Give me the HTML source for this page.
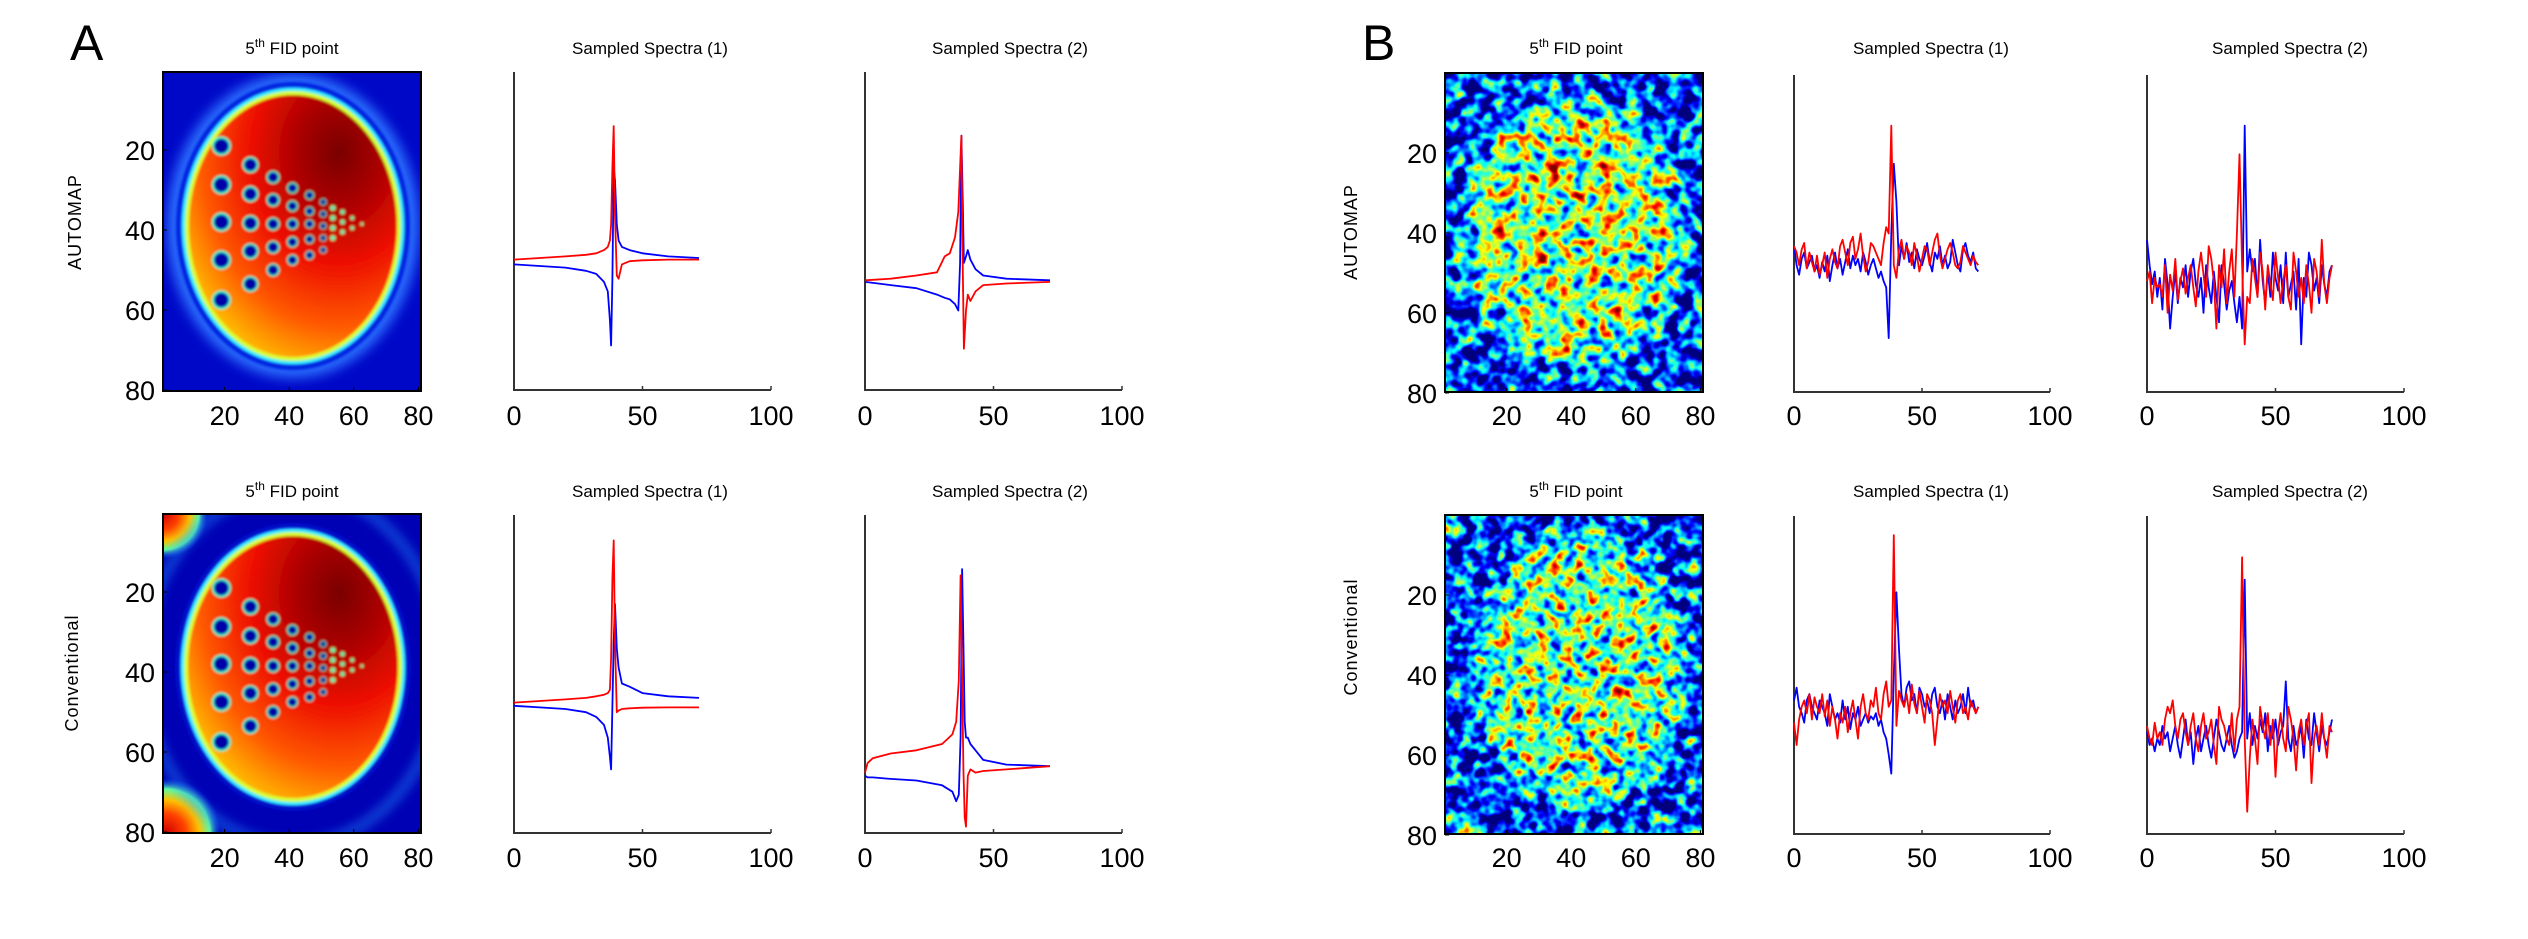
<!DOCTYPE html>
<html><head><meta charset="utf-8">
<style>
html,body{margin:0;padding:0;background:#fff;}
svg{display:block;font-family:"Liberation Sans",sans-serif;}
</style></head>
<body>
<svg id="fig" width="2528" height="939" viewBox="0 0 2528 939" xmlns="http://www.w3.org/2000/svg">
<defs>
  <radialGradient id="gradIn" cx="0.72" cy="0.22" r="0.95">
    <stop offset="0" stop-color="#7a0000"/>
    <stop offset="0.2" stop-color="#a80000"/>
    <stop offset="0.45" stop-color="#ee1000"/>
    <stop offset="0.7" stop-color="#ff5a00"/>
    <stop offset="0.88" stop-color="#ffb000"/>
    <stop offset="1" stop-color="#f0f000"/>
  </radialGradient>
  <radialGradient id="cornerG" cx="0.5" cy="0.5" r="0.5">
    <stop offset="0" stop-color="#d00000"/>
    <stop offset="0.35" stop-color="#ff4000"/>
    <stop offset="0.6" stop-color="#ffc000"/>
    <stop offset="0.8" stop-color="#60ffa0"/>
    <stop offset="1" stop-color="#0040ff" stop-opacity="0"/>
  </radialGradient>
  <filter id="soft"><feGaussianBlur stdDeviation="1.3"/></filter>
  <filter id="halo"><feGaussianBlur stdDeviation="6"/></filter>
  <clipPath id="clipAT"><rect x="163" y="72" width="258" height="319"/></clipPath>
  <clipPath id="clipAB"><rect x="163" y="514" width="258" height="319"/></clipPath>
  <filter id="spkT" filterUnits="userSpaceOnUse" x="1445" y="73" width="258" height="319" color-interpolation-filters="sRGB">
    <feGaussianBlur in="SourceGraphic" stdDeviation="8" result="sig"/>
    <feTurbulence type="fractalNoise" baseFrequency="0.075" numOctaves="2" seed="7" result="n"/>
    <feColorMatrix in="n" type="matrix" values="1 0 0 0 0 1 0 0 0 0 1 0 0 0 0 0 0 0 0 1" result="ng"/>
    <feComposite in="sig" in2="ng" operator="arithmetic" k1="0" k2="0.38" k3="1.5" k4="-0.57" result="v"/>
    <feColorMatrix in="v" type="matrix" values="1 0 0 0 0 1 0 0 0 0 1 0 0 0 0 0 0 0 0 1" result="v2"/>
    <feComponentTransfer in="v2">
      <feFuncR type="table" tableValues="0 0 0 0 0.5 1 1 1 0.5"/>
      <feFuncG type="table" tableValues="0 0 0.5 1 1 1 0.5 0 0"/>
      <feFuncB type="table" tableValues="0.5 1 1 1 0.5 0 0 0 0"/>
    </feComponentTransfer>
  </filter>
  <filter id="spkB" filterUnits="userSpaceOnUse" x="1445" y="515" width="258" height="319" color-interpolation-filters="sRGB">
    <feGaussianBlur in="SourceGraphic" stdDeviation="8" result="sig"/>
    <feTurbulence type="fractalNoise" baseFrequency="0.08" numOctaves="2" seed="21" result="n"/>
    <feColorMatrix in="n" type="matrix" values="1 0 0 0 0 1 0 0 0 0 1 0 0 0 0 0 0 0 0 1" result="ng"/>
    <feComposite in="sig" in2="ng" operator="arithmetic" k1="0" k2="0.34" k3="1.5" k4="-0.58" result="v"/>
    <feColorMatrix in="v" type="matrix" values="1 0 0 0 0 1 0 0 0 0 1 0 0 0 0 0 0 0 0 1" result="v2"/>
    <feComponentTransfer in="v2">
      <feFuncR type="table" tableValues="0 0 0 0 0.5 1 1 1 0.5"/>
      <feFuncG type="table" tableValues="0 0 0.5 1 1 1 0.5 0 0"/>
      <feFuncB type="table" tableValues="0.5 1 1 1 0.5 0 0 0 0"/>
    </feComponentTransfer>
  </filter>
  <radialGradient id="sigT" cx="0.5" cy="0.5" r="0.5" fx="0.55" fy="0.3">
    <stop offset="0" stop-color="#fff"/><stop offset="0.85" stop-color="#ddd"/><stop offset="1" stop-color="#bbb"/>
  </radialGradient>
</defs>

<!-- Panel A top image -->
<g clip-path="url(#clipAT)">
  <rect x="163" y="72" width="258" height="319" fill="#0008c8"/>
  <ellipse cx="293" cy="226" rx="126" ry="152" fill="#2a70ff" filter="url(#halo)"/>
  <ellipse cx="293" cy="226" rx="117" ry="144" fill="#0020e0" filter="url(#soft)"/>
  <g filter="url(#soft)">
    <ellipse cx="293" cy="226" rx="112" ry="139" fill="#30e8ff"/>
    <ellipse cx="293" cy="226" rx="108" ry="135" fill="#d8ff30"/>
    <ellipse cx="293" cy="226" rx="104" ry="131" fill="url(#gradIn)"/>
    <g id="dotsAT"></g>
  </g>
</g>
<rect x="163" y="72" width="258" height="319" fill="none" stroke="#000" stroke-width="2"/>

<!-- Panel A bottom image -->
<g clip-path="url(#clipAB)">
  <rect x="163" y="514" width="258" height="319" fill="#0000b4"/>
  <circle cx="163" cy="514" r="45" fill="url(#cornerG)"/>
  <circle cx="166" cy="833" r="55" fill="url(#cornerG)"/>
  <ellipse cx="293" cy="667" rx="150" ry="178" fill="none" stroke="#2090ff" stroke-width="5" filter="url(#halo)"/>
  <ellipse cx="293" cy="667" rx="118" ry="144" fill="#0010c8" filter="url(#soft)"/>
  <g filter="url(#soft)">
    <ellipse cx="293" cy="667" rx="113" ry="139" fill="#30e8ff"/>
    <ellipse cx="293" cy="667" rx="109" ry="135" fill="#d8ff30"/>
    <ellipse cx="293" cy="667" rx="105" ry="131" fill="url(#gradIn)"/>
    <g id="dotsAB"></g>
  </g>
</g>
<rect x="163" y="514" width="258" height="319" fill="none" stroke="#000" stroke-width="2"/>

<!-- Panel B images -->
<g filter="url(#spkT)">
  <rect x="1445" y="73" width="258" height="319" fill="#000"/>
  <ellipse cx="1574" cy="232" rx="110" ry="133" fill="url(#sigT)"/>
</g>
<rect x="1445" y="73" width="258" height="319" fill="none" stroke="#000" stroke-width="2"/>
<g filter="url(#spkB)">
  <rect x="1445" y="515" width="258" height="319" fill="#000"/>
  <ellipse cx="1580" cy="670" rx="106" ry="138" fill="url(#sigT)"/>
  <circle cx="1447" cy="520" r="14" fill="#999"/>
  <circle cx="1452" cy="832" r="22" fill="#999"/>
</g>
<rect x="1445" y="515" width="258" height="319" fill="none" stroke="#000" stroke-width="2"/>

<g id="layer"></g>
</svg>

<script>
// ---------- spectra data (x in axis units 0-100, y in % of plot height) ----------
const xsAT1 = [0,10,20,28,32,35,36.5,37.3,37.8,38.3,38.8,39.3,40,40.7,42,45,50,60,72];
const redAT1 = [41,41.5,42,42.5,43,44,45,47,52,70,83,55,36,35,39.5,40.5,40.8,41,41];
const blueAT1 = [39.5,39,38.5,37.5,36.5,34,31,22,14,35,70,66,52,47,45,44,43,42,41.5];

const xsAT2 = [0,10,20,28,31,33,35,36.3,37,37.5,38,38.5,39.3,40,41,43,46,55,72];
const redAT2 = [34.5,35,36,37,42,43,48,56,70,80,40,13,25,30,28,31,33,33.5,34];
const blueAT2 = [34,33,32,30,29,28.5,27,25,40,80,60,40,42,44,41,38,36,35,34.5];

const xsAB1 = [0,10,20,28,32,35,36.5,37.3,37.8,38.3,38.8,39.3,40,40.7,42,45,50,60,72];
const redAB1 = [41,41.5,42,42.5,43,43.5,44,45,55,80,92,60,38,38.5,39,39.2,39.4,39.5,39.5];
const blueAB1 = [40,39.5,39,38,36.5,34,30,24,20,40,60,72,58,52,47,46,44,43,42.5];

const xsAB2 = [0,1,3,10,20,30,34,35.5,36.5,37.2,37.8,38.3,38.8,39.3,40,41,43,46,55,72];
const redAB2 = [19,22,23.5,25,26,28,31,35,48,81,50,20,5,2,18,20,19,19.5,20,21];
const blueAB2 = [18,17.5,17.5,17,16.5,15,13,10,12,30,83,60,35,30,30,28,26,23,21.5,21];

const redBT1 = [46,44,40,45,47,39,44,41,38,43,37,40,44,36,42,45,41,39,46,48,44,40,47,49,42,45,50,43,38,41,47,46,44,42,40,47,52,50,84,40,36,45,48,42,46,44,40,47,43,38,42,46,45,40,44,48,50,43,39,42,45,47,44,40,39,41,46,44,42,40,43,41,40];
const blueBT1 = [46,40,37,42,44,39,41,43,38,40,36,41,38,43,35,40,44,39,42,37,41,45,39,43,40,42,38,44,41,37,40,42,39,36,38,35,33,17,50,72,60,40,46,42,47,41,44,39,45,42,40,43,47,41,38,44,42,46,40,43,39,41,48,44,40,38,45,47,43,41,44,39,38];

const redBT2 = [35,38,28,36,33,34,30,40,25,37,32,42,29,35,39,31,36,40,33,27,38,44,37,30,46,42,35,20,40,33,45,28,38,45,30,50,75,40,15,30,28,42,36,30,44,38,26,40,34,29,44,36,28,35,40,30,26,44,38,30,36,28,40,34,25,42,38,30,48,34,28,36,40];
const blueBT2 = [48,40,34,38,30,36,26,42,34,20,30,38,28,36,33,40,30,38,42,34,30,36,25,40,33,28,38,30,22,40,34,26,32,35,28,22,30,20,84,38,45,38,42,30,48,35,28,38,30,44,36,32,40,28,44,30,34,38,26,42,15,36,30,44,40,32,36,28,40,34,30,38,40];

const redBB1 = [35,28,36,40,42,38,44,36,43,40,38,44,37,42,34,40,36,30,38,35,40,32,38,42,36,30,40,44,38,36,42,40,46,38,36,44,48,40,42,94,34,45,42,40,44,38,47,41,38,45,40,35,44,42,38,28,36,44,40,42,38,45,40,35,42,44,38,40,36,42,40,38,40];
const blueBB1 = [42,46,40,38,35,42,44,40,38,36,42,40,38,34,44,40,36,38,35,42,36,40,33,38,36,40,34,36,38,35,37,36,38,34,36,32,30,25,19,50,76,58,44,40,46,48,42,44,38,46,44,40,42,38,44,46,40,38,42,36,44,40,36,42,38,40,44,38,46,40,42,38,40];

const redBB2 = [34,30,28,35,30,32,28,36,40,38,42,34,30,36,38,32,28,34,38,30,26,34,38,30,32,36,28,22,40,36,34,30,28,38,26,36,40,87,30,7,24,36,30,22,40,34,30,38,28,36,18,32,38,30,26,40,36,30,20,32,36,28,34,38,16,30,34,28,38,30,24,34,32];
const blueBB2 = [32,28,30,26,30,28,34,30,32,26,30,34,28,24,30,36,28,32,22,30,34,26,30,34,28,24,30,36,32,28,26,30,34,28,24,26,30,32,80,30,38,28,34,30,36,32,38,26,34,30,36,28,32,34,48,30,26,34,28,30,34,24,36,30,28,38,32,26,34,30,28,32,36];

const specTicks = [0, 50, 100];
const imgTicks = [20, 40, 60, 80];

// ---------- image dot pattern (x unit, y units, radius px) ----------
const dotCols = [
  [19,[19,28.7,38,47.5,57.5],9.5],
  [28,[23.7,31,38.3,45.3,53.5],8],
  [35,[26.8,32.5,38.5,44.3,50],6.5],
  [41,[29.5,34,38.5,43,47.5],5.5],
  [46.3,[31.3,35.3,38.5,42.3,46.3],4.5],
  [50.5,[33,36,39,42,45],3.4],
  [53.5,[34.5,37,39.5,42],2.8],
  [56.5,[35.5,38,40.5],2.4],
  [59.5,[37,39.5],2.0],
  [62.5,[38.5],1.6]
];

const NS = 'http://www.w3.org/2000/svg';
const layer = document.getElementById('layer');
function mk(tag, attrs, parent) {
  const e = document.createElementNS(NS, tag);
  for (const k in attrs) e.setAttribute(k, attrs[k]);
  (parent || layer).appendChild(e);
  return e;
}

// dots
function drawDots(gid, x0, y0) {
  const g = document.getElementById(gid);
  dotCols.forEach(c => {
    c[1].forEach(yu => {
      const cx = x0 + c[0] * 3.23, cy = y0 + yu * 4;
      const ring = mk('circle', {cx: cx, cy: cy, r: c[2], fill: c[2] > 3 ? '#30ffc8' : '#c8ff40'}, g);
      
      
      const core = mk('circle', {cx: cx, cy: cy, r: c[2] * 0.78, fill: c[2] > 3 ? '#0000a8' : '#40e8c0'}, g);
      
      
    });
  });
}
drawDots('dotsAT', 160, 70);
drawDots('dotsAB', 160, 512);

function txt(s, x, y, size, anchor, name) {
  const t = mk('text', {x: x, y: y, 'font-size': size, 'text-anchor': anchor || 'middle', fill: '#000'});
  t.textContent = s;
  
  
  return t;
}

// image axes ticks and labels
function imgAxes(x0img, y0, x1, yb, xOrigin, yOrigin, labelRight, labelY, prefix) {
  imgTicks.forEach(v => {
    const px = xOrigin + v * 3.23;
    const py = yOrigin + v * 4;
    const tk = mk('line', {x1: px, y1: yb, x2: px, y2: yb - 4, stroke: '#000', 'stroke-width': 1});
    
    
    const tk2 = mk('line', {x1: x0img, y1: py, x2: x0img + 4, y2: py, stroke: '#000', 'stroke-width': 1});
    
    
    txt(String(v), px, labelY, 27, 'middle', prefix + '-x-tick-label');
    txt(String(v), labelRight, py + 10, 27, 'end', prefix + '-y-tick-label');
  });
}
imgAxes(163, 70, 421, 391, 160, 70, 155, 425, 'automap-image-a');
imgAxes(163, 512, 421, 833, 160, 512, 155, 867, 'conventional-image-a');
imgAxes(1445, 73, 1703, 392, 1442, 73, 1437, 425, 'automap-image-b');
imgAxes(1445, 515, 1703, 834, 1442, 515, 1437, 867, 'conventional-image-b');

// spectra
function spectrum(x0, x1, yb, yt, xs, red, blue, labelY, prefix) {
  const sx = v => x0 + (x1 - x0) * v / 100;
  const sy = v => yb - (yb - yt) * v / 100;
  const ax = mk('path', {d: 'M' + x0 + ',' + yt + 'L' + x0 + ',' + yb + 'L' + x1 + ',' + yb, fill: 'none', stroke: '#333', 'stroke-width': 2});
  
  
  specTicks.forEach(t => {
    const tk = mk('line', {x1: sx(t), y1: yb, x2: sx(t), y2: yb - 4, stroke: '#333', 'stroke-width': 1.5});
    
    
    txt(String(t), sx(t), labelY, 27, 'middle', prefix + '-x-tick-label');
  });
  const xv = i => (xs ? xs[i] : i);
  const dr = red.map((v, i) => (i ? 'L' : 'M') + sx(xv(i)).toFixed(1) + ',' + sy(v).toFixed(1)).join('');
  const db = blue.map((v, i) => (i ? 'L' : 'M') + sx(xv(i)).toFixed(1) + ',' + sy(v).toFixed(1)).join('');
  const pb = mk('path', {d: db, fill: 'none', stroke: '#0000ff', 'stroke-width': 1.8, 'stroke-linejoin': 'round'});
  
  
  const pr = mk('path', {d: dr, fill: 'none', stroke: '#ff0000', 'stroke-width': 1.8, 'stroke-linejoin': 'round'});
  
  
}
spectrum(514, 771, 390, 72, xsAT1, redAT1, blueAT1, 425, 'automap-spectrum-1-a');
spectrum(865, 1122, 390, 72, xsAT2, redAT2, blueAT2, 425, 'automap-spectrum-2-a');
spectrum(514, 771, 833, 515, xsAB1, redAB1, blueAB1, 867, 'conventional-spectrum-1-a');
spectrum(865, 1122, 833, 515, xsAB2, redAB2, blueAB2, 867, 'conventional-spectrum-2-a');
spectrum(1794, 2050, 392, 75, null, redBT1, blueBT1, 425, 'automap-spectrum-1-b');
spectrum(2147, 2404, 392, 75, null, redBT2, blueBT2, 425, 'automap-spectrum-2-b');
spectrum(1794, 2050, 834, 516, null, redBB1, blueBB1, 867, 'conventional-spectrum-1-b');
spectrum(2147, 2404, 834, 516, null, redBB2, blueBB2, 867, 'conventional-spectrum-2-b');

// titles
function fidTitle(x, y, name) {
  const t = mk('text', {x: x, y: y, 'font-size': 17, 'text-anchor': 'middle', fill: '#000'});
  
  
  const a = mk('tspan', {}, t); a.textContent = '5';
  const b = mk('tspan', {'font-size': 12, dy: -7}, t); b.textContent = 'th';
  const c = mk('tspan', {dy: 7}, t); c.textContent = ' FID point';
}
fidTitle(292, 54, 'automap-image-a-title');
fidTitle(292, 497, 'conventional-image-a-title');
fidTitle(1576, 54, 'automap-image-b-title');
fidTitle(1576, 497, 'conventional-image-b-title');
txt('Sampled Spectra (1)', 650, 54, 17, 'middle', 'automap-spectrum-1-a-title');
txt('Sampled Spectra (2)', 1010, 54, 17, 'middle', 'automap-spectrum-2-a-title');
txt('Sampled Spectra (1)', 650, 497, 17, 'middle', 'conventional-spectrum-1-a-title');
txt('Sampled Spectra (2)', 1010, 497, 17, 'middle', 'conventional-spectrum-2-a-title');
txt('Sampled Spectra (1)', 1931, 54, 17, 'middle', 'automap-spectrum-1-b-title');
txt('Sampled Spectra (2)', 2290, 54, 17, 'middle', 'automap-spectrum-2-b-title');
txt('Sampled Spectra (1)', 1931, 497, 17, 'middle', 'conventional-spectrum-1-b-title');
txt('Sampled Spectra (2)', 2290, 497, 17, 'middle', 'conventional-spectrum-2-b-title');

// panel letters
txt('A', 70, 60, 50, 'start', 'panel-label-a');
txt('B', 1362, 60, 50, 'start', 'panel-label-b');

// row labels
function rowLabel(s, x, y, name) {
  const t = mk('text', {x: 0, y: 0, 'font-size': 18, 'text-anchor': 'middle', fill: '#000', transform: 'translate(' + x + ',' + y + ') rotate(-90)', 'letter-spacing': 1});
  t.textContent = s;
  
  
}
rowLabel('AUTOMAP', 81, 222, 'row-label-automap-a');
rowLabel('Conventional', 78, 673, 'row-label-conventional-a');
rowLabel('AUTOMAP', 1357, 232, 'row-label-automap-b');
rowLabel('Conventional', 1357, 637, 'row-label-conventional-b');
</script>
</body></html>
